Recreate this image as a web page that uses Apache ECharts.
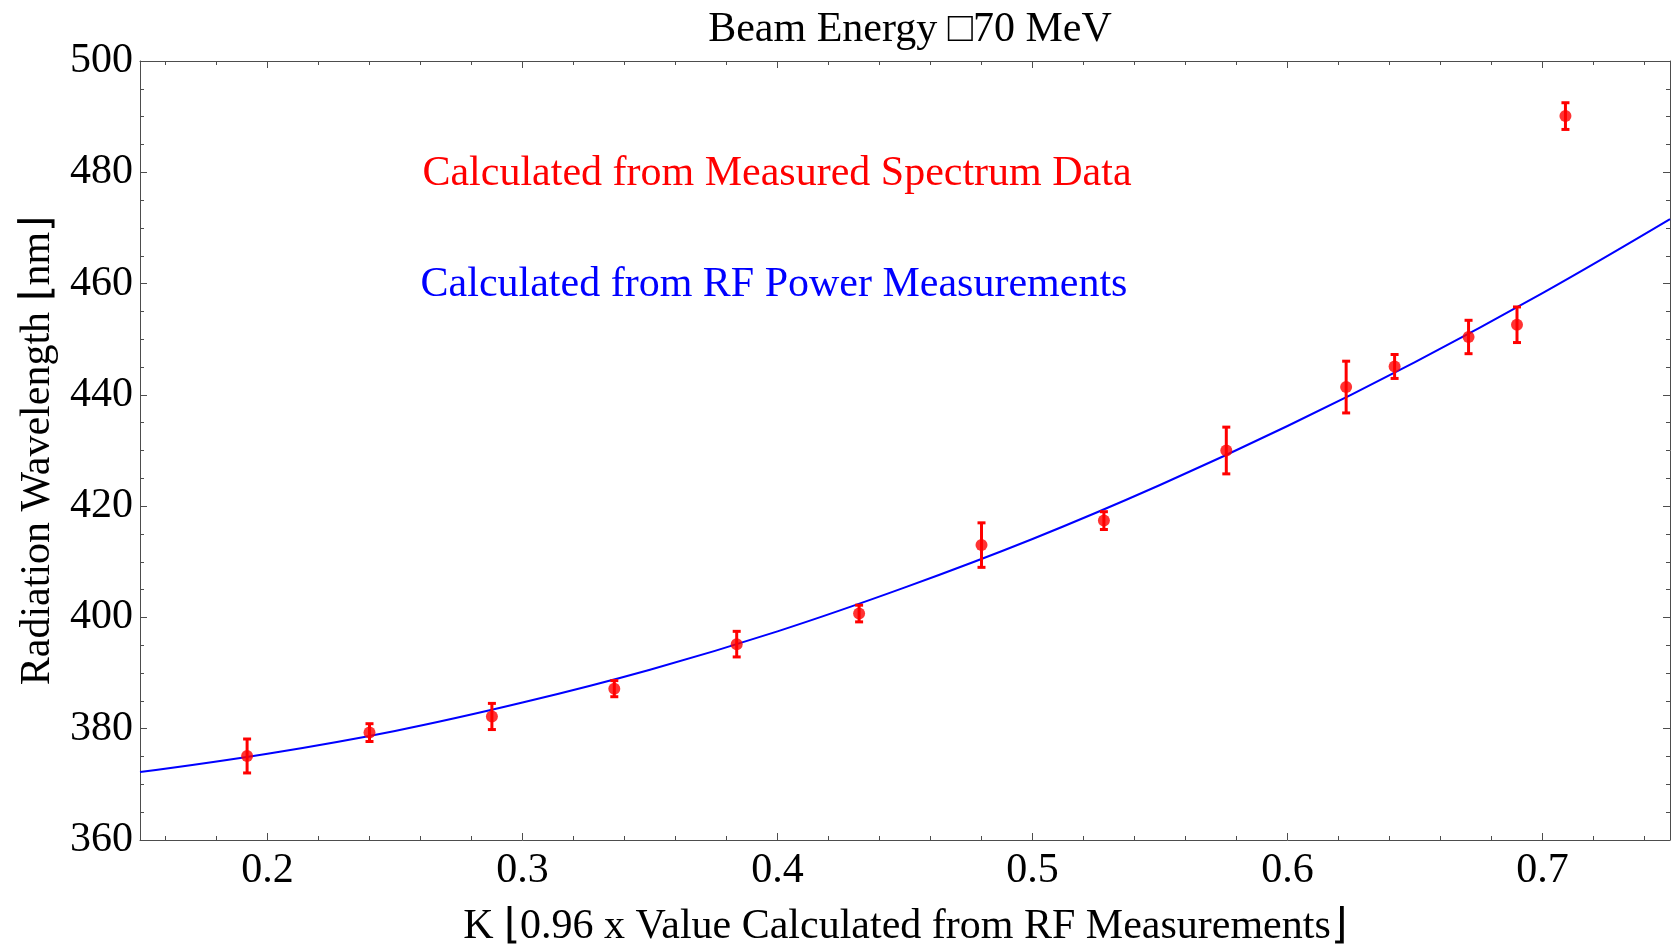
<!DOCTYPE html>
<html>
<head>
<meta charset="utf-8">
<script src="https://cdn.jsdelivr.net/npm/echarts@6/dist/echarts.min.js"></script>
<style>
  html, body { margin: 0; padding: 0; background: #ffffff; }
  #chart { width: 1673px; height: 945px; }
</style>
</head>
<body>
<div id="chart"></div>
<script>
// Measured undulator radiation wavelength vs. K parameter
const kMeasured = [0.192, 0.240, 0.288, 0.336, 0.384, 0.432, 0.480, 0.528, 0.576, 0.623, 0.642, 0.671, 0.690, 0.709];
const wavelengthMeasured = [375.1, 379.3, 382.2, 387.2, 395.2, 400.7, 413.0, 417.4, 430.0, 441.4, 445.1, 450.4, 452.6, 490.1];
const wavelengthError = [3.05, 1.6, 2.35, 1.45, 2.3, 1.5, 4.0, 1.6, 4.2, 4.65, 2.15, 3.0, 3.2, 2.4];

// Wavelength expected from the RF power measurements
const kCurve = [0.15, 0.20, 0.25, 0.30, 0.35, 0.40, 0.45, 0.50, 0.55, 0.60, 0.65, 0.70, 0.75];
const wavelengthCurve = [372.2, 375.5, 379.6, 384.7, 390.6, 397.5, 405.4, 414.1, 423.8, 434.4, 445.9, 458.3, 471.6];

// Tick positions
const xMajorTicks = [0.2, 0.3, 0.4, 0.5, 0.6, 0.7];
const xMinorTicks = [0.16, 0.18, 0.22, 0.24, 0.26, 0.28, 0.32, 0.34, 0.36, 0.38, 0.42, 0.44, 0.46, 0.48,
                     0.52, 0.54, 0.56, 0.58, 0.62, 0.64, 0.66, 0.68, 0.72, 0.74];

const titleText = 'Beam Energy \u25A170 MeV';
const xName = 'K \u230A0.96 x Value Calculated from RF Measurements\u230B';
const yName = 'Radiation Wavelength \u230Anm\u230B';
const measuredLabel = 'Calculated from Measured Spectrum Data';
const rfLabel = 'Calculated from RF Power Measurements';

const FONT = "'Liberation Serif', 'Times New Roman', serif";
const FS = 42;
const AXIS_COLOR = '#4d4d4d';
const RED = '#ff0000';
const BLUE = '#0000ff';

const measuredPoints = kMeasured.map((k, i) => [k, wavelengthMeasured[i]]);
const errorBars = kMeasured.map((k, i) => [k, wavelengthMeasured[i] - wavelengthError[i], wavelengthMeasured[i] + wavelengthError[i]]);
const curvePoints = kCurve.map((k, i) => [k, wavelengthCurve[i]]);

function xAxisDef(position, ticks, len, showLine, showLabel) {
  return {
    type: 'value', gridIndex: 0, position: position,
    min: 0.15, max: 0.75,
    splitLine: { show: false },
    axisLine: { show: showLine, lineStyle: { color: AXIS_COLOR, width: 1 } },
    axisTick: { show: true, inside: true, length: len, customValues: ticks,
                lineStyle: { color: AXIS_COLOR, width: 1 } },
    axisLabel: showLabel
      ? { show: true, customValues: ticks, margin: 10, color: '#000', fontFamily: FONT, fontSize: FS,
          formatter: v => v.toFixed(1) }
      : { show: false },
    name: showLabel ? xName : '',
    nameLocation: 'middle', nameGap: 66,
    nameTextStyle: { color: '#000', fontFamily: FONT, fontSize: FS }
  };
}

function yAxisDef(position, showLabel) {
  return {
    type: 'value', gridIndex: 0, position: position,
    min: 360, max: 500, interval: 20,
    splitLine: { show: false },
    axisLine: { show: true, lineStyle: { color: AXIS_COLOR, width: 1 } },
    axisTick: { show: true, inside: true, length: 7, lineStyle: { color: AXIS_COLOR, width: 1 } },
    minorTick: { show: true, splitNumber: 4, length: 4, lineStyle: { color: AXIS_COLOR, width: 1 } },
    minorSplitLine: { show: false },
    axisLabel: showLabel
      ? { show: true, margin: 7, color: '#000', fontFamily: FONT, fontSize: FS }
      : { show: false },
    name: showLabel ? yName : '',
    nameLocation: 'middle', nameGap: 77, nameRotate: 90,
    nameTextStyle: { color: '#000', fontFamily: FONT, fontSize: FS }
  };
}

const chart = echarts.init(document.getElementById('chart'), null, { renderer: 'canvas' });

chart.setOption({
  backgroundColor: '#ffffff',
  animation: false,
  title: {
    text: titleText, left: 905, top: 4, textAlign: 'center',
    textStyle: { color: '#000', fontFamily: FONT, fontSize: FS, fontWeight: 'normal' }
  },
  grid: { left: 140, right: 3, top: 61, bottom: 105, containLabel: false, outerBoundsMode: 'none' },
  xAxis: [
    xAxisDef('bottom', xMajorTicks, 7, true, true),
    xAxisDef('bottom', xMinorTicks, 4, false, false),
    xAxisDef('top', xMajorTicks, 7, true, false),
    xAxisDef('top', xMinorTicks, 4, false, false)
  ],
  yAxis: [
    yAxisDef('left', true),
    yAxisDef('right', false)
  ],
  graphic: [
    { type: 'text', x: 777, y: 174, style: { text: measuredLabel, fill: RED, font: FS + 'px ' + FONT, align: 'center', verticalAlign: 'middle' } },
    { type: 'text', x: 774, y: 285, style: { text: rfLabel, fill: BLUE, font: FS + 'px ' + FONT, align: 'center', verticalAlign: 'middle' } }
  ],
  series: [
    {
      name: rfLabel, type: 'line', xAxisIndex: 0, yAxisIndex: 0,
      data: curvePoints, smooth: 0.4, showSymbol: false,
      lineStyle: { color: BLUE, width: 2 }, z: 2
    },
    {
      name: 'error', type: 'custom', xAxisIndex: 0, yAxisIndex: 0,
      data: errorBars, encode: { x: 0, y: [1, 2] }, z: 3,
      renderItem: function (params, api) {
        const x = api.value(0);
        const lo = api.coord([x, api.value(1)]);
        const hi = api.coord([x, api.value(2)]);
        const w = 4;
        const style = { stroke: RED, lineWidth: 3 };
        return {
          type: 'group',
          children: [
            { type: 'line', shape: { x1: lo[0], y1: lo[1], x2: hi[0], y2: hi[1] }, style: style },
            { type: 'line', shape: { x1: lo[0] - w, y1: lo[1], x2: lo[0] + w, y2: lo[1] }, style: style },
            { type: 'line', shape: { x1: hi[0] - w, y1: hi[1], x2: hi[0] + w, y2: hi[1] }, style: style }
          ]
        };
      }
    },
    {
      name: measuredLabel, type: 'scatter', xAxisIndex: 0, yAxisIndex: 0,
      data: measuredPoints, symbol: 'circle', symbolSize: 12,
      itemStyle: { color: RED }, z: 4
    }
  ]
});
</script>
</body>
</html>
